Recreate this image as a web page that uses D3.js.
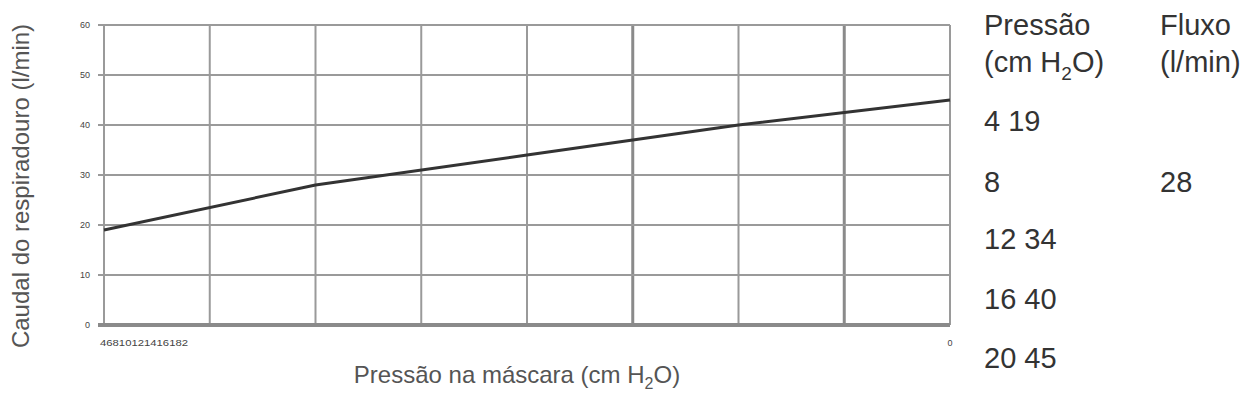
<!DOCTYPE html>
<html><head><meta charset="utf-8">
<script src="https://cdn.jsdelivr.net/npm/d3@7"></script>
<style>body{margin:0;background:#fff}svg{display:block}</style>
</head><body>
<svg id="c" width="1259" height="401"></svg>
<script>
// Data
const pressure = [4, 8, 12, 16, 20];
const flow = [19, 28, 34, 40, 45];
const yTicks = [0, 10, 20, 30, 40, 50, 60];
const xGrid = [4, 6, 8, 10, 12, 14, 16, 18, 20];
const xTickLeft = "46810121416182";
const xTickRight = "0";
const tableHeaders = [["Pressão", "(cm H", "2", "O)"], ["Fluxo", "(l/min)"]];
const tableRows = [["4 19", ""], ["8", "28"], ["12 34", ""], ["16 40", ""], ["20 45", ""]];

const svg = d3.select("#c");
const font = "'Liberation Sans', Arial, sans-serif";
const m = {l: 104, r: 950, t: 25, b: 325};
const x = d3.scaleLinear().domain([4, 20]).range([m.l, m.r]);
const y = d3.scaleLinear().domain([0, 60]).range([m.b, m.t]);

// grid
const g = svg.append("g");
g.selectAll(".v").data(xGrid).join("line")
  .attr("x1", d => x(d)).attr("x2", d => x(d)).attr("y1", m.t).attr("y2", m.b)
  .attr("stroke", (d, i) => (i === 5 || i === 7) ? "#8a8a8a" : "#9a9a9a")
  .attr("stroke-width", (d, i) => (i === 5 || i === 7) ? 3 : 2);
g.selectAll(".h").data(yTicks).join("line")
  .attr("x1", m.l - 6).attr("x2", m.r).attr("y1", d => y(d)).attr("y2", d => y(d))
  .attr("stroke", d => d === 0 ? "#8a8a8a" : "#9a9a9a")
  .attr("stroke-width", d => d === 0 ? 4 : 2);

// y tick labels
svg.append("g").selectAll("text").data(yTicks).join("text")
  .attr("x", 90).attr("y", d => y(d)).attr("dy", "0.35em")
  .attr("text-anchor", "end").attr("font-family", font).attr("font-size", 9)
  .attr("fill", "#444").text(d => d);

// x tick labels (collapsed as in source)
svg.append("text").attr("x", x(4) - 4).attr("y", 346)
  .attr("font-family", font).attr("font-size", 9).attr("fill", "#444")
  .attr("textLength", 88).attr("lengthAdjust", "spacingAndGlyphs").text(xTickLeft);
svg.append("text").attr("x", x(20)).attr("y", 346).attr("text-anchor", "middle")
  .attr("font-family", font).attr("font-size", 9).attr("fill", "#444").text(xTickRight);

// line
svg.append("path").datum(pressure.map((p, i) => [p, flow[i]]))
  .attr("d", d3.line().x(d => x(d[0])).y(d => y(d[1])))
  .attr("fill", "none").attr("stroke", "#333").attr("stroke-width", 3)
  .attr("stroke-linejoin", "round");

// axis titles
const xt = svg.append("text").attr("x", 517).attr("y", 383).attr("text-anchor", "middle")
  .attr("font-family", font).attr("font-size", 24).attr("fill", "#555");
xt.append("tspan").text("Pressão na máscara (cm H");
xt.append("tspan").attr("font-size", 16).attr("dy", 6).text("2");
xt.append("tspan").attr("dy", -6).text("O)");

svg.append("text").attr("transform", "translate(29,186) rotate(-90)")
  .attr("text-anchor", "middle").attr("font-family", font).attr("font-size", 24)
  .attr("fill", "#555").text("Caudal do respiradouro (l/min)");

// table
const colX = [984, 1160];
const tf = 29;
const h1 = svg.append("g").attr("font-family", font).attr("font-size", tf).attr("fill", "#333");
h1.append("text").attr("x", colX[0]).attr("y", 35).text(tableHeaders[0][0]);
const h12 = h1.append("text").attr("x", colX[0]).attr("y", 72);
h12.append("tspan").text(tableHeaders[0][1]);
h12.append("tspan").attr("font-size", 19).attr("dy", 8).text(tableHeaders[0][2]);
h12.append("tspan").attr("dy", -8).text(tableHeaders[0][3]);
h1.append("text").attr("x", colX[1]).attr("y", 35).text(tableHeaders[1][0]);
h1.append("text").attr("x", colX[1]).attr("y", 72).text(tableHeaders[1][1]);

const rowY = [131, 192, 249, 309, 368];
tableRows.forEach((r, i) => {
  r.forEach((t, j) => {
    if (t) h1.append("text").attr("x", colX[j]).attr("y", rowY[i]).text(t);
  });
});
</script>
</body></html>
